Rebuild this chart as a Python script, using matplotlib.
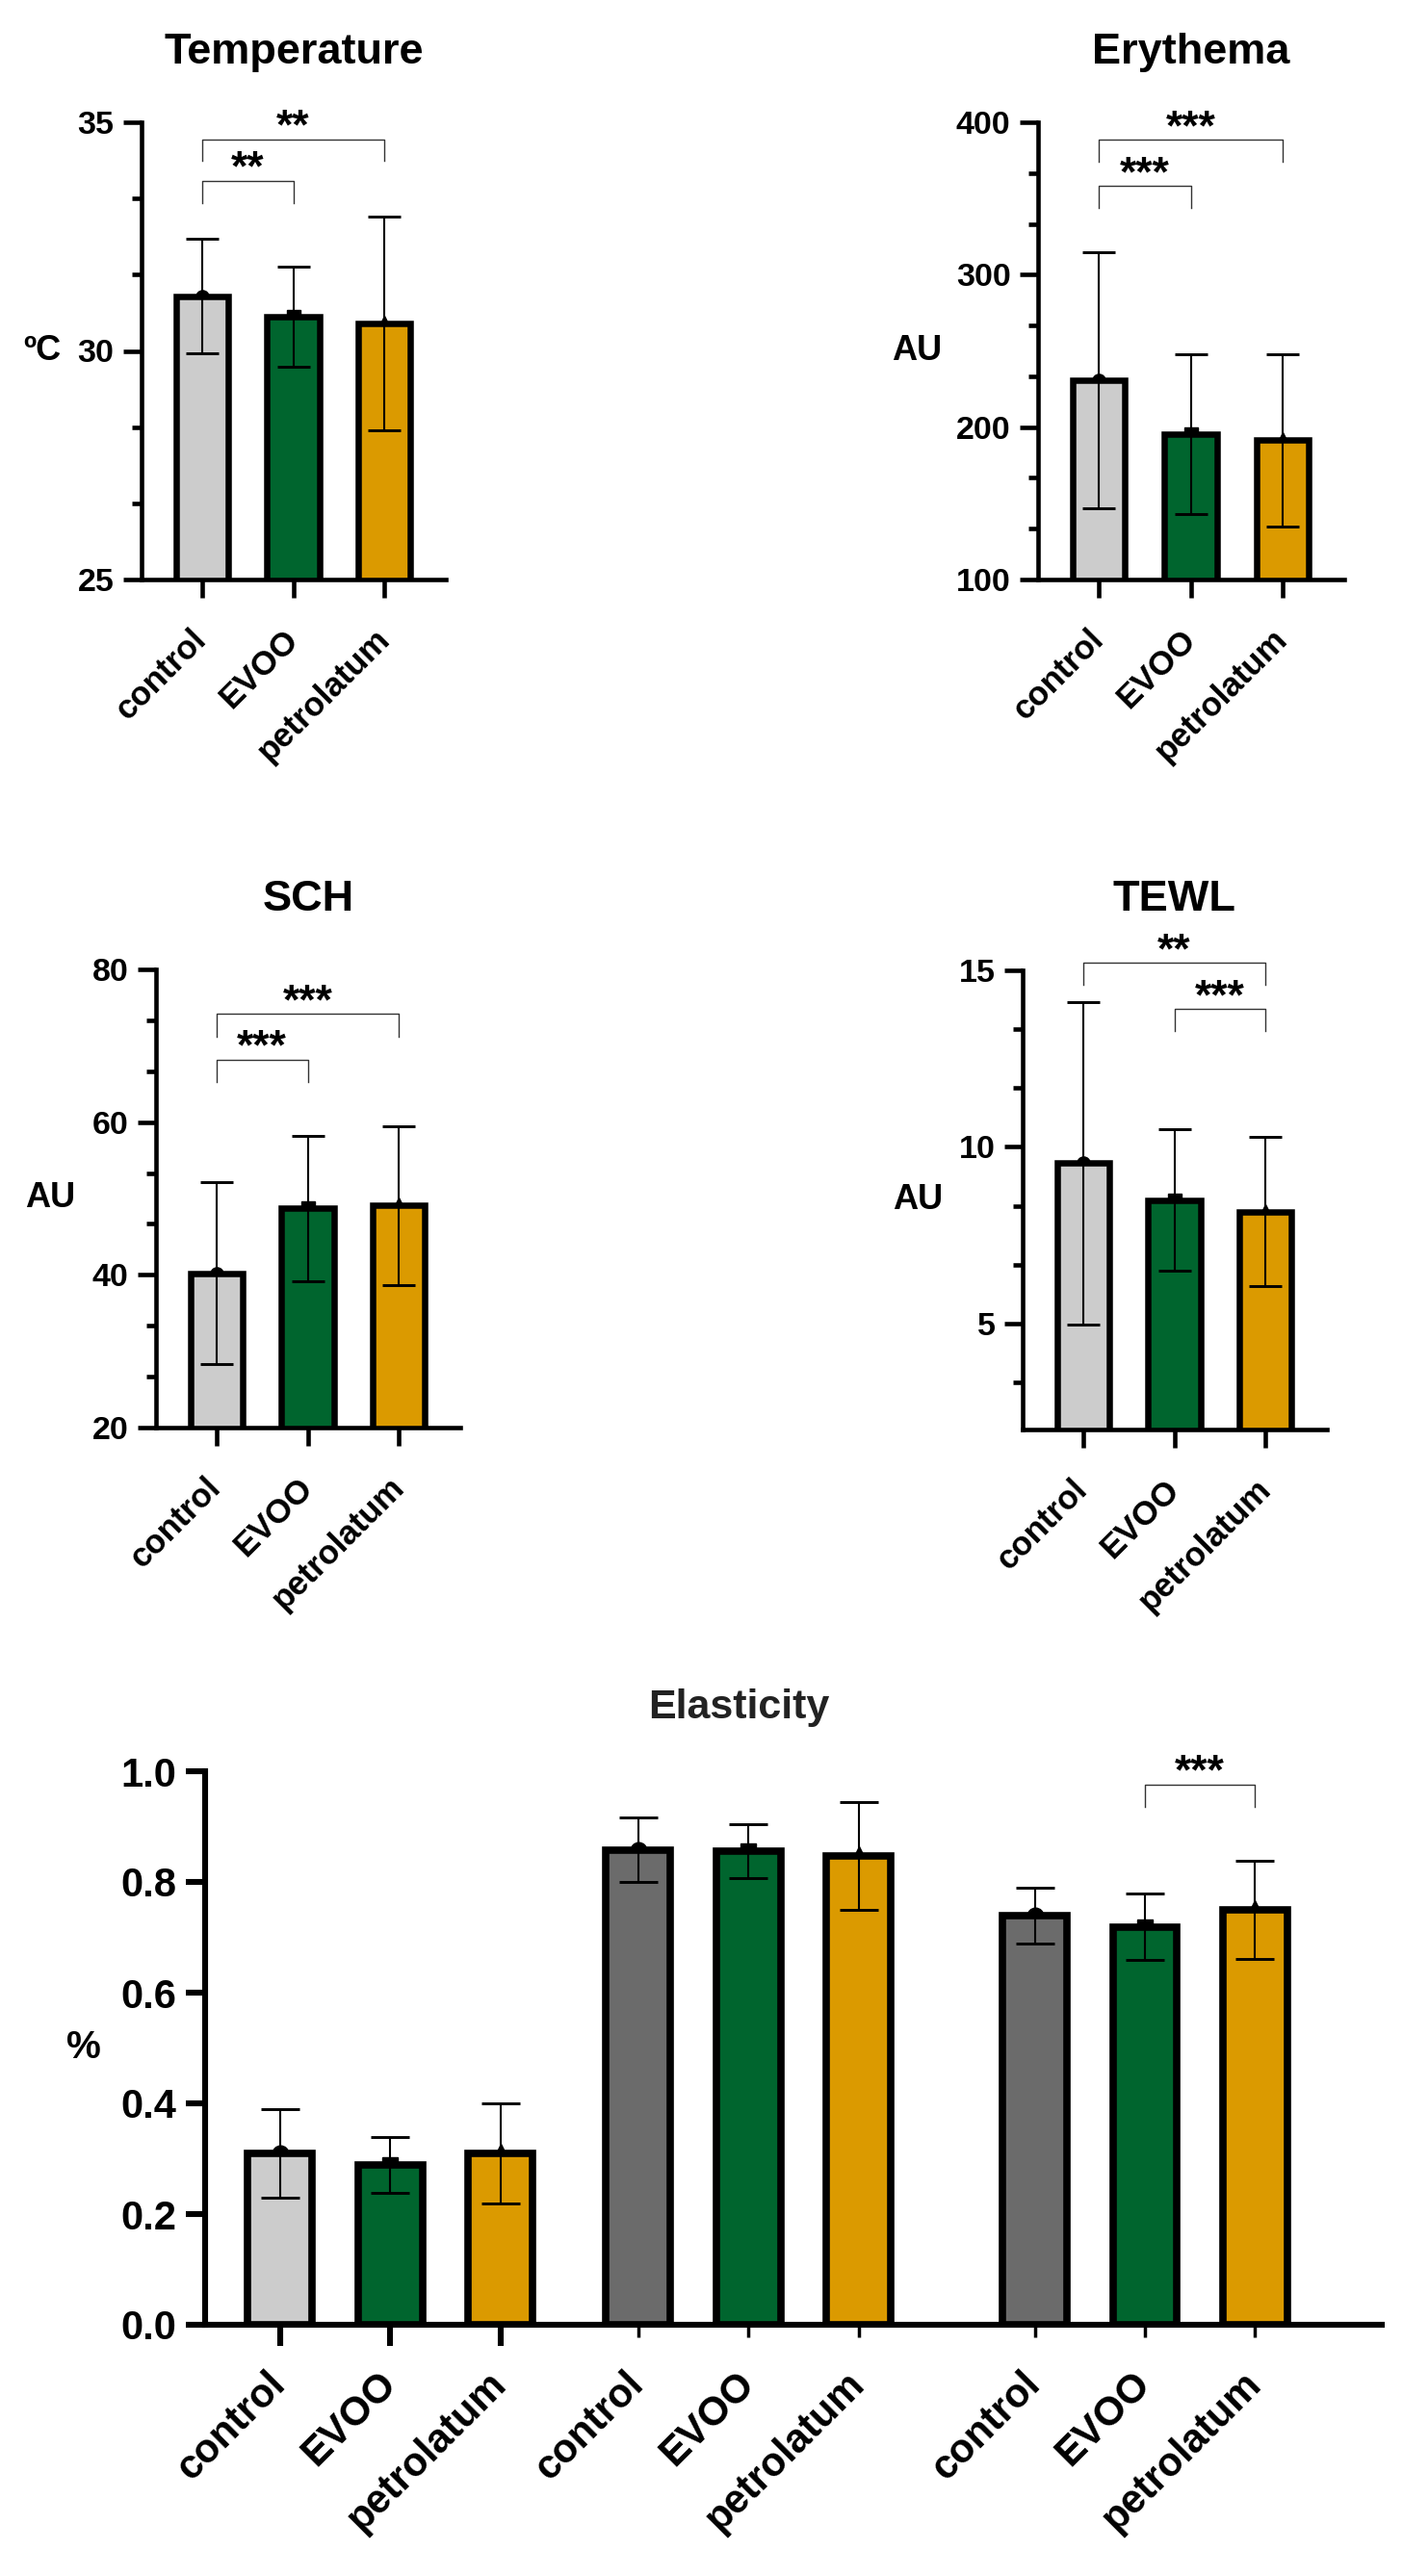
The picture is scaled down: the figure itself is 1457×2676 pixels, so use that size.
import matplotlib
matplotlib.use("Agg")
import matplotlib.pyplot as plt
from matplotlib.ticker import MultipleLocator


W, H = 1457, 2676
DPI = 100

GROUPS = ["control", "EVOO", "petrolatum"]

temp_mean = [31.2, 30.75, 30.6]
temp_sd = [1.25, 1.1, 2.33]
temp_sig = [(0, 1, 33.72, 33.23, "**"), (0, 2, 34.63, 34.15, "**")]

ery_mean = [231.0, 195.2, 191.5]
ery_sd = [84.0, 52.5, 56.5]
ery_sig = [(0, 1, 358.2, 343.7, "***"), (0, 2, 388.4, 374.3, "***")]

sch_mean = [40.2, 48.7, 49.1]
sch_sd = [11.9, 9.5, 10.4]
sch_sig = [(0, 1, 68.2, 65.2, "***"), (0, 2, 74.2, 71.2, "***")]

tewl_mean = [9.54, 8.5, 8.17]
tewl_sd = [4.56, 2.0, 2.12]
tewl_sig = [(1, 2, 13.9, 13.27, "***"), (0, 2, 15.22, 14.59, "**")]

elast_mean = [0.309, 0.289, 0.31, 0.858, 0.856, 0.847, 0.739, 0.719, 0.75]
elast_sd = [0.08, 0.05, 0.09, 0.058, 0.049, 0.098, 0.05, 0.06, 0.089]
elast_sig = [(7, 8, 0.976, 0.936, "***")]

LIGHT = "#cccccc"
DARK = "#6b6b6b"
GREEN = "#00652e"
ORANGE = "#db9a00"
MARKERS = ["o", "s", "^"]

plt.rcParams["font.family"] = ["Liberation Sans", "DejaVu Sans"]
plt.rcParams["font.weight"] = "bold"

fig = plt.figure(figsize=(W / DPI, H / DPI), dpi=DPI)


def make_axes(left, top, right, bottom):
    return fig.add_axes([left / W, 1 - bottom / H, (right - left) / W, (bottom - top) / H])


def draw_bars(ax, x, means, sds, colors, width, edge, cap, sizes):
    for i, (xi, m) in enumerate(zip(x, means)):
        k = i % 3
        ax.plot([xi], [m], marker=MARKERS[k], color="black", ms=sizes[k], zorder=1, clip_on=False)
    ax.bar(x, means, width=width, color=colors, edgecolor="black", linewidth=edge, zorder=2)
    ax.errorbar(x, means, yerr=sds, fmt="none", ecolor="black", elinewidth=1.5,
                capsize=cap, capthick=2.1, zorder=3)


def bracket(ax, x1, x2, y, y_leg, label, size):
    ax.plot([x1, x1, x2, x2], [y_leg, y, y, y_leg], color="#333333", lw=1.0,
            clip_on=False, zorder=4)
    ax.annotate(label, xy=((x1 + x2) / 2, y), xytext=(0, 0), textcoords="offset points",
                ha="center", va="baseline", fontsize=size, fontweight="bold",
                annotation_clip=False)


def style_axes(ax, lw):
    ax.spines[["top", "right"]].set_visible(False)
    ax.spines[["left", "bottom"]].set_linewidth(lw)
    ax.tick_params(which="both", width=lw, color="black")


def small_panel(rect, title, title_y, ylabel, label_dx, means, sds, ylim, major, sig):
    left, top, right, bottom = rect
    ax = make_axes(left, top, right, bottom)
    x = list(range(len(GROUPS)))
    draw_bars(ax, x, means, sds, [LIGHT, GREEN, ORANGE], 0.57, 4.7, 12, [9.5, 9.5, 11])
    ax.set_xlim(-0.66, 2.67)
    ax.set_ylim(*ylim)
    ax.yaxis.set_major_locator(MultipleLocator(major))
    ax.yaxis.set_minor_locator(MultipleLocator(major / 3))
    style_axes(ax, 3.3)
    ax.tick_params(axis="y", which="major", length=13.5, labelsize=24.5, pad=7)
    ax.tick_params(axis="y", which="minor", length=7.5)
    ax.tick_params(axis="x", length=14, pad=27)
    ax.set_xticks(x, GROUPS, rotation=45, ha="right", va="center", rotation_mode="anchor",
                  fontsize=25, fontweight="bold")
    ax.set_ylabel(ylabel, rotation=0, fontsize=26, fontweight="bold", ha="center", va="center")
    ax.yaxis.set_label_coords(-label_dx / (right - left), 0.5)
    fig.text((left + right) / 2 / W, 1 - title_y / H, title, ha="center", va="baseline",
             fontsize=32.5, fontweight="bold")
    for i, j, y, y_leg, label in sig:
        bracket(ax, i, j, y, y_leg, label, 32)
    return ax


small_panel((147, 127, 463, 602), "Temperature", 66, "ºC", 103,
            temp_mean, temp_sd, (25, 35), 5, temp_sig)
small_panel((1078, 127, 1396, 602), "Erythema", 66, "AU", 126,
            ery_mean, ery_sd, (100, 400), 100, ery_sig)
small_panel((162, 1007, 478, 1483), "SCH", 946, "AU", 110,
            sch_mean, sch_sd, (20, 80), 20, sch_sig)
small_panel((1062, 1008, 1378, 1485), "TEWL", 946, "AU", 109,
            tewl_mean, tewl_sd, (2, 15), 5, tewl_sig)

# elasticity: three groups of three bars
left, top, right, bottom = 213, 1840, 1435, 2415
ax = make_axes(left, top, right, bottom)
offsets = [0, 3.25, 6.85]
x = [o + k for o in offsets for k in range(3)]
colors = [LIGHT, GREEN, ORANGE, DARK, GREEN, ORANGE, DARK, GREEN, ORANGE]
draw_bars(ax, x, elast_mean, elast_sd, colors, 0.585, 5.5, 14.4, [12, 11.5, 14])
ax.set_xlim(-0.68, 10.0)
ax.set_ylim(0, 1.0)
ax.yaxis.set_major_locator(MultipleLocator(0.2))
style_axes(ax, 4.4)
ax.tick_params(axis="y", length=14.5, labelsize=30, pad=7)
ax.set_xticks(x[:3], GROUPS, rotation=45, ha="right", va="center", rotation_mode="anchor",
              fontsize=30, fontweight="bold")
ax.set_xticks(x[3:], GROUPS * 2, minor=True, rotation=45, ha="right", va="center",
              rotation_mode="anchor", fontsize=30, fontweight="bold")
ax.tick_params(axis="x", which="major", length=16, pad=24)
ax.tick_params(axis="x", which="minor", direction="inout", length=19, width=2.5, pad=30.5)
ax.set_ylabel("%", rotation=0, fontsize=29, fontweight="bold", ha="center", va="center")
ax.yaxis.set_label_coords(-126 / (right - left), 0.5)
fig.text(767 / W, 1 - 1785 / H, "Elasticity", ha="center", va="baseline",
         fontsize=31, fontweight="bold", color="#222222")
for i, j, y, y_leg, label in elast_sig:
    bracket(ax, x[i], x[j], y, y_leg, label, 32)

fig.savefig("out.png", dpi=DPI)
